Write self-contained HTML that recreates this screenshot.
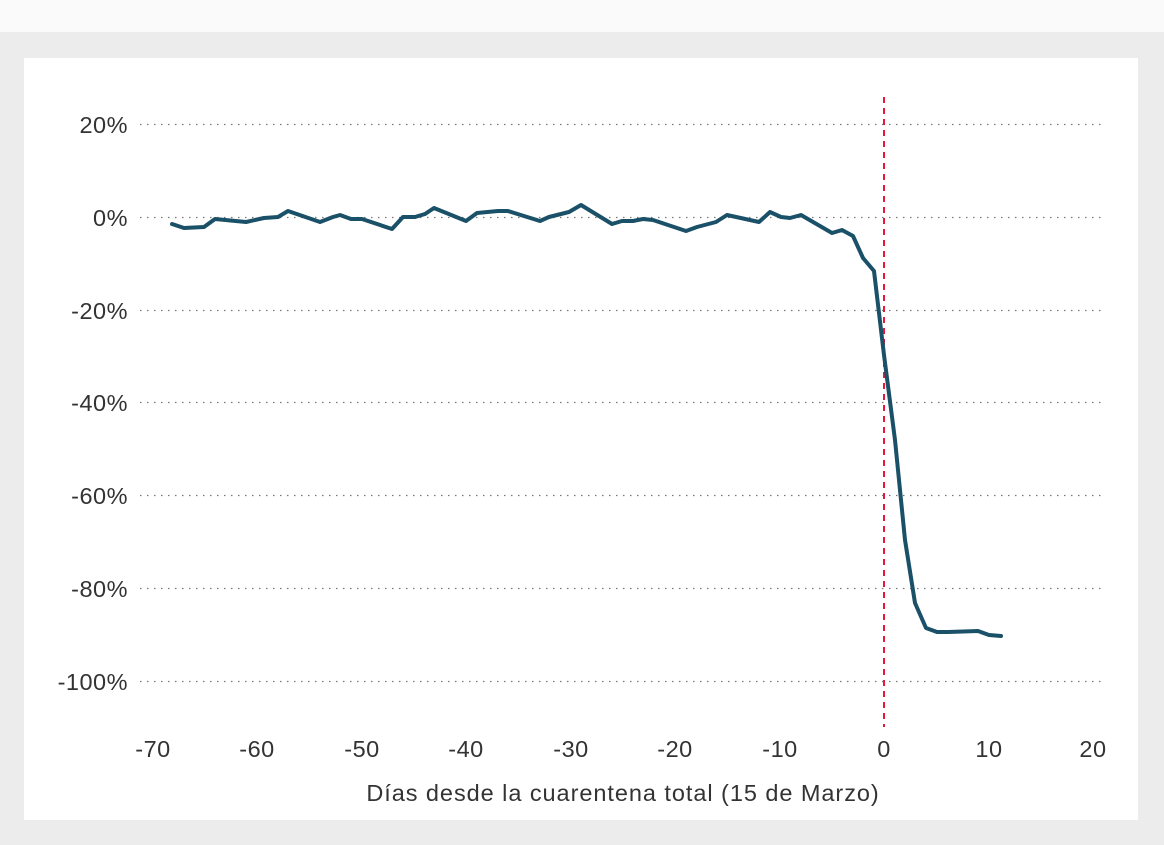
<!DOCTYPE html>
<html><head><meta charset="utf-8"><style>
html,body{margin:0;padding:0;width:1164px;height:845px;overflow:hidden;background:#ececec;}
</style></head><body>
<svg width="1164" height="845" xmlns="http://www.w3.org/2000/svg" style="position:absolute;left:0;top:0;font-family:'Liberation Sans',sans-serif">
<rect x="0" y="0" width="1164" height="32" fill="#fafafa"/>
<rect x="24" y="58" width="1114" height="762" fill="#ffffff"/>
<g stroke="#777" stroke-width="1.2" stroke-dasharray="1.5,5.5">
<line x1="140" y1="124.5" x2="1106" y2="124.5"/>
<line x1="140" y1="217.5" x2="1106" y2="217.5"/>
<line x1="140" y1="310.5" x2="1106" y2="310.5"/>
<line x1="140" y1="402.5" x2="1106" y2="402.5"/>
<line x1="140" y1="495.5" x2="1106" y2="495.5"/>
<line x1="140" y1="588.5" x2="1106" y2="588.5"/>
<line x1="140" y1="681.5" x2="1106" y2="681.5"/>
</g>
<g font-size="23.5" fill="#333" text-anchor="end" letter-spacing="0.5">
<text x="128" y="133">20%</text>
<text x="128" y="226">0%</text>
<text x="128" y="319">-20%</text>
<text x="128" y="411">-40%</text>
<text x="128" y="504">-60%</text>
<text x="128" y="597">-80%</text>
<text x="128" y="690">-100%</text>
</g>
<g font-size="23.5" fill="#333" text-anchor="middle" letter-spacing="0.5">
<text x="153" y="757">-70</text>
<text x="257" y="757">-60</text>
<text x="362" y="757">-50</text>
<text x="466" y="757">-40</text>
<text x="571" y="757">-30</text>
<text x="675" y="757">-20</text>
<text x="780" y="757">-10</text>
<text x="884" y="757">0</text>
<text x="989" y="757">10</text>
<text x="1093" y="757">20</text>
<text x="623" y="801" letter-spacing="0.95">Días desde la cuarentena total (15 de Marzo)</text>
</g>
<line x1="884" y1="97" x2="884" y2="727" stroke="#e8173a" stroke-width="2" stroke-dasharray="6,5"/>
<polyline fill="none" stroke="#1a5068" stroke-width="4" stroke-linejoin="round" stroke-linecap="round" points="172,224 184,228 204,227 215,219 246,222 264,218 278,217 288,211 320,222 333,217 340,215 351,219 362,219 392,229 403,217 415,217 425,214 434,208 466,221 477,213 498,211 508,211 540,221 549,217 569,212 581,205 612,224 622,221 633,221 643,219 653,220 686,231 697,227 716,222 727,215 759,222 770,212 781,217 790,218 801,215 832,233 842,230 853,236 863,258 874,271 884,355 895,440 905,540 915,603 926,628 937,632 948,632 978,631 989,635 1001,636"/>
</svg>
</body></html>
